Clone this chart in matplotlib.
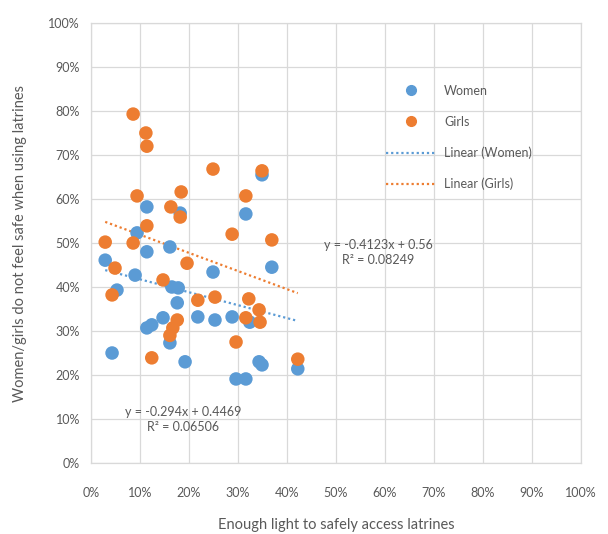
import numpy as np
import matplotlib
matplotlib.use("Agg")
import matplotlib.pyplot as plt
from matplotlib.ticker import PercentFormatter
from matplotlib.lines import Line2D

# ---- data (fractions) ----
women_x = [0.043, 0.029, 0.053, 0.090, 0.094, 0.114, 0.114, 0.114, 0.124, 0.147,
           0.161, 0.161, 0.165, 0.178, 0.176, 0.182, 0.192, 0.218, 0.249, 0.253,
           0.288, 0.316, 0.324, 0.349, 0.369, 0.296, 0.316, 0.343, 0.349, 0.422]
women_y = [0.250, 0.461, 0.393, 0.427, 0.523, 0.582, 0.480, 0.307, 0.314, 0.330,
           0.491, 0.273, 0.400, 0.398, 0.364, 0.568, 0.230, 0.332, 0.434, 0.325,
           0.332, 0.566, 0.320, 0.655, 0.445, 0.191, 0.191, 0.230, 0.223, 0.214]

girls_x = [0.086, 0.112, 0.114, 0.094, 0.184, 0.163, 0.182, 0.249, 0.349, 0.316,
           0.288, 0.369, 0.029, 0.086, 0.114, 0.049, 0.196, 0.147, 0.043, 0.176,
           0.167, 0.161, 0.124, 0.218, 0.253, 0.322, 0.343, 0.316, 0.345, 0.296,
           0.422]
girls_y = [0.793, 0.750, 0.720, 0.607, 0.616, 0.582, 0.559, 0.668, 0.664, 0.607,
           0.520, 0.507, 0.502, 0.500, 0.539, 0.443, 0.454, 0.416, 0.382, 0.325,
           0.307, 0.290, 0.239, 0.370, 0.377, 0.373, 0.348, 0.330, 0.320, 0.275,
           0.236]

# trendline coefficients as printed on the chart
women_fit = (-0.294, 0.4469)
girls_fit = (-0.4123, 0.56)
women_eq = ["y = -0.294x + 0.4469", "R\u00b2 = 0.06506"]
girls_eq = ["y = -0.4123x + 0.56", "R\u00b2 = 0.08249"]

BLUE = "#5B9BD5"
ORANGE = "#ED7D31"
TEXT = "#595959"
GRID = "#D9D9D9"

plt.rcParams["font.family"] = ["Lato", "DejaVu Sans"]

fig = plt.figure(figsize=(6.08, 5.34), dpi=100)
ax = fig.add_axes([91 / 608, 1 - 463 / 534, 490 / 608, 440 / 534])

ax.scatter(women_x, women_y, s=95, color=BLUE, edgecolors="none", zorder=3, label="Women")
ax.scatter(girls_x, girls_y, s=95, color=ORANGE, edgecolors="none", zorder=4, label="Girls")

# trendlines over the data range
for xs, fit, col in [(women_x, women_fit, BLUE), (girls_x, girls_fit, ORANGE)]:
    lx = np.array([min(xs), max(xs)])
    ax.plot(lx, fit[0] * lx + fit[1], color=col, lw=1.6,
            linestyle=(0, (1, 1.3)), zorder=2)

ax.set_xlim(0, 1)
ax.set_ylim(0, 1)
ax.set_xticks(np.arange(0, 1.01, 0.1))
ax.set_yticks(np.arange(0, 1.01, 0.1))
ax.xaxis.set_major_formatter(PercentFormatter(1.0, decimals=0))
ax.yaxis.set_major_formatter(PercentFormatter(1.0, decimals=0))
ax.tick_params(length=0, labelsize=9, colors=TEXT)
ax.tick_params(axis="x", pad=17)
ax.tick_params(axis="y", pad=8)
ax.grid(True, color=GRID, lw=0.9, zorder=0)
for s in ax.spines.values():
    s.set_color(GRID)
    s.set_linewidth(0.9)

ax.set_xlabel("Enough light to safely access latrines", fontsize=10.5, color=TEXT, labelpad=14)
ax.set_ylabel("Women/girls do not feel safe when using latrines", fontsize=10.5, color=TEXT, labelpad=15)

# equations
ax.text(0.586, 0.478, girls_eq[0] + "\n" + girls_eq[1], ha="center", va="center",
        fontsize=9, color=TEXT, linespacing=1.3)
ax.text(0.188, 0.098, women_eq[0] + "\n" + women_eq[1], ha="center", va="center",
        fontsize=9, color=TEXT, linespacing=1.3)

handles = [
    Line2D([], [], marker="o", ls="none", color=BLUE, markersize=7),
    Line2D([], [], marker="o", ls="none", color=ORANGE, markersize=7),
    Line2D([], [], color=BLUE, lw=1.6, linestyle=(0, (1, 1.3))),
    Line2D([], [], color=ORANGE, lw=1.6, linestyle=(0, (1, 1.3))),
]
labels = ["Women", "Girls", "Linear (Women)", "Linear (Girls)"]
leg = ax.legend(handles, labels, loc="upper left", bbox_to_anchor=(0.58, 0.885),
                frameon=False, fontsize=9, labelspacing=1.5, handlelength=4.0,
                handletextpad=0.6, labelcolor=TEXT)

fig.savefig("out.png", dpi=100)
